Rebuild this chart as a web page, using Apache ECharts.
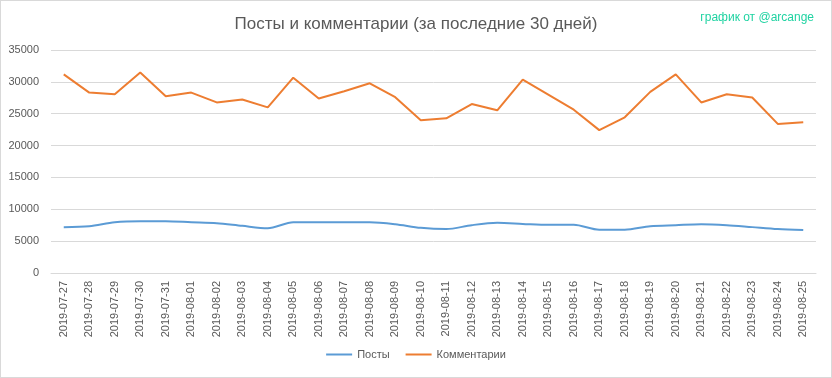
<!DOCTYPE html>
<html>
<head>
<meta charset="utf-8">
<script src="https://cdn.jsdelivr.net/npm/echarts@6/dist/echarts.min.js"></script>
<style>
  html, body { margin: 0; padding: 0; background: #fff; }
  #chart { width: 832px; height: 378px; box-sizing: border-box; border: 1px solid #d9d9d9; }
</style>
</head>
<body>
<div id="chart"></div>
<script>
// даты (ось X)
var dates = [
    "2019-07-27", "2019-07-28", "2019-07-29", "2019-07-30", "2019-07-31",
    "2019-08-01", "2019-08-02", "2019-08-03", "2019-08-04", "2019-08-05",
    "2019-08-06", "2019-08-07", "2019-08-08", "2019-08-09", "2019-08-10",
    "2019-08-11", "2019-08-12", "2019-08-13", "2019-08-14", "2019-08-15",
    "2019-08-16", "2019-08-17", "2019-08-18", "2019-08-19", "2019-08-20",
    "2019-08-21", "2019-08-22", "2019-08-23", "2019-08-24", "2019-08-25"
];

// Посты
var posts = [
    7200, 7350, 7970, 8130, 8130, 7970, 7820, 7400, 7040, 7970,
    7970, 7970, 7970, 7660, 7090, 6890, 7510, 7870, 7710, 7560,
    7560, 6780, 6780, 7350, 7510, 7660, 7510, 7200, 6890, 6730
];

// Комментарии
var comments = [
    31170, 28320, 28060, 31480, 27750, 28320, 26770, 27230, 25990, 30650,
    27390, 28530, 29770, 27600, 23970, 24280, 26510, 25530, 30340, 28010,
    25630, 22420, 24440, 28430, 31170, 26770, 28060, 27540, 23400, 23660
];

var chart = echarts.init(document.getElementById('chart'));
var font = 'Liberation Sans';

var option = {
    animation: false,
    textStyle: { fontFamily: font },
    title: [{
        text: 'Посты и комментарии (за последние 30 дней)',
        left: 'center',
        top: 10,
        textStyle: { fontFamily: font, fontSize: 17, fontWeight: 'normal', color: '#595959' }
    }, {
        text: 'график от @arcange',
        right: 12,
        top: 6,
        textStyle: { fontFamily: font, fontSize: 12, fontWeight: 'normal', color: '#1fd3a2' }
    }],
    legend: {
        bottom: 12,
        left: 'center',
        itemWidth: 26,
        itemHeight: 2,
        itemGap: 16,
        icon: 'rect',
        textStyle: { fontFamily: font, fontSize: 11, color: '#595959' },
        data: ['Посты', 'Комментарии']
    },
    grid: { left: 50, right: 15, top: 49, bottom: 104 },
    xAxis: {
        type: 'category',
        data: dates,
        boundaryGap: true,
        axisLine: { lineStyle: { color: '#d9d9d9' } },
        axisTick: { show: false },
        axisLabel: { rotate: 90, color: '#595959', fontSize: 11, margin: 8, interval: 0 }
    },
    yAxis: {
        type: 'value',
        min: 0,
        max: 35000,
        interval: 5000,
        axisLine: { show: false },
        axisTick: { show: false },
        axisLabel: {
            color: '#595959',
            fontSize: 11,
            margin: 12,
            formatter: function (v) { return String(v); }
        },
        splitLine: { lineStyle: { color: '#d9d9d9' } }
    },
    series: [{
        name: 'Посты',
        type: 'line',
        data: posts,
        smooth: 0.3,
        symbol: 'none',
        lineStyle: { color: '#5b9bd5', width: 2 },
        itemStyle: { color: '#5b9bd5' }
    }, {
        name: 'Комментарии',
        type: 'line',
        data: comments,
        symbol: 'none',
        lineStyle: { color: '#ed7d31', width: 2 },
        itemStyle: { color: '#ed7d31' }
    }]
};

chart.setOption(option);
</script>
</body>
</html>
